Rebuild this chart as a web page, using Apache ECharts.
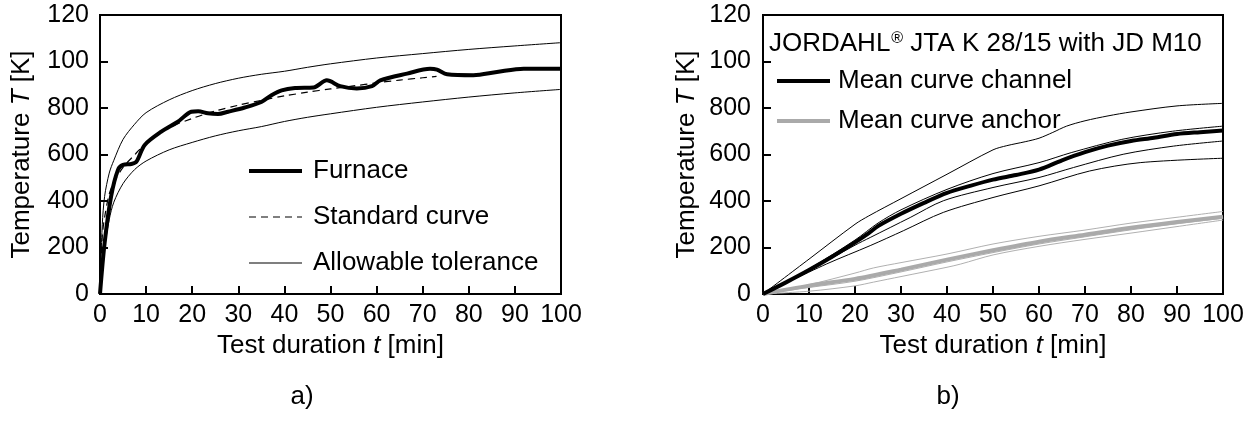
<!DOCTYPE html>
<html>
<head>
<meta charset="utf-8">
<script src="https://cdn.jsdelivr.net/npm/echarts@6/dist/echarts.min.js"></script>
<style>html,body{margin:0;padding:0;background:#fff}#c{width:1255px;height:421px}</style>
</head>
<body>
<div id="c"></div>
<script>
// ---------- Data ----------
const xTickLabels = ['0','10','20','30','40','50','60','70','80','90','100'];
const yTickLabels = ['0','200','400','600','800','100','120'];

// Chart a)
const furnaceT = [0,1,2.4,3.9,5,6.8,7.9,9.7,13.3,16.9,19.8,21.3,23.4,25.6,27.8,31.4,35,37.2,39.4,42.3,46.3,49.2,52.1,55.7,59,60.8,66.6,71.6,73.1,75.3,81,86.1,91.9,100];
const furnaceV = [0,219,419,534,555,559,569,641,698,741,784,786,777,774,784,802,826,855,876,886,888,919,894,884,894,919,948,969,965,945,941,955,969,969];
const standardT = [0,0.5,1,2,3,5,7.5,10,15,20,25,30,35,40,45,50,55,60,65,70,73];
const standardV = [20,250,330,430,480,545,598,650,715,755,787,812,833,852,868,882,895,908,920,930,936];
const tolT = [0,0.5,1,2,3,5,7.5,10,15,20,25,30,35,40,45,50,60,70,80,90,100];
const tolUpperV = [20,300,420,520,575,665,730,780,835,875,905,928,945,958,975,990,1015,1034,1052,1067,1081];
const tolLowerV = [0,100,200,320,395,475,535,572,620,652,680,702,720,742,760,775,803,826,847,865,880];

// Chart b)
const ch1T = [0,10,20,23,30,40,50,53,57,60,63,66,70,75,80,90,100];
const ch1V = [0,150,300,336,410,515,620,638,655,670,695,722,745,766,783,809,820];
const ch2T = [0,10,20,25,30,40,50,60,67,78,89,100];
const ch2V = [0,108,232,305,362,450,518,565,608,665,700,722];
const ch3T = [0,10,20,23.3,32,39.2,50,60,67.5,78.3,89.2,100];
const ch3V = [0,100,210,243,329,401,458,501,544,601,636,658];
const ch4T = [0,13.8,23.3,30.5,39.2,50,60,71,82,100];
const ch4V = [0,129,208,272,351,415,465,529,565,584];
const chMeanT = [0,5,10,15,20,23,25,30,35,40,45,50,55,60,65,70,75,80,85,90,95,100];
const chMeanV = [0,50,103,160,222,262,292,345,392,435,465,492,512,535,575,610,638,658,672,688,696,703];

const an1T = [0,10,20,24,30,40,50,60,70,80,90,100];
const an1V = [0,40,90,112,135,172,215,248,275,305,330,355];
const an2T = [0,10,20,24,30,40,43,50,60,70,80,90,100];
const an2V = [0,12,35,51,75,115,129,168,205,235,262,290,318];
const an3T = [0,10,20,30,40,50,60,70,80,90,100];
const an3V = [0,28,55,95,138,178,215,246,276,302,326];
const anMeanT = [0,10,20,30,40,50,60,70,80,90,100];
const anMeanV = [0,36,65,105,148,188,225,255,285,310,332];

const panelLabels = ['a)','b)'];
const headerB = 'JORDAHL';
const headerBRest = ' JTA K 28/15 with JD M10';

// ---------- Helpers ----------
function pairs(ts, vs){ return ts.map((t,i)=>[t, vs[i]]); }
const FONT = 'Liberation Sans, Arial, Helvetica, sans-serif';
const FS = 26, TFS = 25;

function xAxisFor(gi){
  return {
    type:'value', gridIndex:gi, min:0, max:100, interval:10,
    name:'{n|Test duration }{i|t}{n| [min]}', nameLocation:'middle', nameGap:39,
    nameTextStyle:{ rich:{ n:{fontFamily:FONT,fontSize:FS,color:'#000'}, i:{fontFamily:FONT,fontSize:FS,fontStyle:'italic',color:'#000'} } },
    axisLine:{ show:true, lineStyle:{color:'#000', width:2} },
    axisTick:{ show:true, inside:true, length:8, lineStyle:{color:'#000', width:2} },
    axisLabel:{ margin:9, fontFamily:FONT, fontSize:TFS, color:'#000',
      formatter:(v)=>xTickLabels[Math.round(v/10)] },
    splitLine:{show:false}
  };
}
function yAxisFor(gi, gap, lm){
  return {
    type:'value', gridIndex:gi, min:0, max:1200, interval:200,
    name:'{n|Temperature }{i|T}{n| [K]}', nameLocation:'middle', nameGap:gap,
    nameTextStyle:{ rich:{ n:{fontFamily:FONT,fontSize:FS,color:'#000'}, i:{fontFamily:FONT,fontSize:FS,fontStyle:'italic',color:'#000'} } },
    axisLine:{ show:true, lineStyle:{color:'#000', width:2} },
    axisTick:{ show:true, inside:true, length:8, lineStyle:{color:'#000', width:2} },
    axisLabel:{ margin:lm, fontFamily:FONT, fontSize:TFS, color:'#000',
      formatter:(v)=>yTickLabels[Math.round(v/200)] },
    splitLine:{show:false}
  };
}
function line(name, gi, data, color, width, type){
  return {
    type:'line', name:name, xAxisIndex:gi, yAxisIndex:gi, data:data,
    symbol:'none', smooth:0.3, silent:true, animation:false,
    lineStyle:{ color:color, width:width, type:type||'solid' },
    itemStyle:{ color:color }
  };
}

const chart = echarts.init(document.getElementById('c'), null, {renderer:'canvas'});
const option = {
  animation:false,
  backgroundColor:'#fff',
  grid:[
    { left:100, top:15, width:461, height:279, show:true, borderColor:'#000', borderWidth:2, backgroundColor:'transparent' },
    { left:763, top:15, width:460, height:279, show:true, borderColor:'#000', borderWidth:2, backgroundColor:'transparent' }
  ],
  xAxis:[ xAxisFor(0), xAxisFor(1) ],
  yAxis:[ yAxisFor(0, 65, 11), yAxisFor(1, 63, 12) ],
  title:[
    { text:'{t|'+headerB+'}{s|®}{t|'+headerBRest+'}', left:769, top:31, padding:0,
      textStyle:{ fontWeight:'normal', rich:{ t:{fontFamily:FONT,fontSize:FS,fontWeight:'normal',color:'#000'}, s:{fontFamily:FONT,fontSize:16,fontWeight:'normal',color:'#000',verticalAlign:'top',padding:[0,0,10,1]} } } },
    { text:panelLabels[0], left:302, top:384, padding:0, textAlign:'center', textStyle:{fontFamily:FONT,fontSize:FS,fontWeight:'normal',color:'#000'} },
    { text:panelLabels[1], left:948, top:384, padding:0, textAlign:'center', textStyle:{fontFamily:FONT,fontSize:FS,fontWeight:'normal',color:'#000'} }
  ],
  legend:[
    { orient:'vertical', left:247, top:158, padding:0, itemWidth:53, itemHeight:14, itemGap:20, selectedMode:false,
      itemStyle:{opacity:0},
      textStyle:{fontFamily:FONT,fontSize:FS,color:'#000',padding:[0,0,0,6]},
      data:[
        {name:'Furnace', lineStyle:{width:4,color:'#000'}},
        {name:'Standard curve', lineStyle:{width:1.2,color:'#000',type:[7,5]}},
        {name:'Allowable tolerance', lineStyle:{width:1.2,color:'#000'}}
      ] },
    { orient:'vertical', left:775, top:68, padding:0, itemWidth:53, itemHeight:14, itemGap:14, selectedMode:false,
      itemStyle:{opacity:0},
      textStyle:{fontFamily:FONT,fontSize:FS,color:'#000',padding:[0,0,0,3]},
      data:[
        {name:'Mean curve channel', lineStyle:{width:4,color:'#000'}},
        {name:'Mean curve anchor', lineStyle:{width:4,color:'#aaaaaa'}}
      ] }
  ],
  series:[
    line('Allowable tolerance', 0, pairs(tolT, tolUpperV), '#000', 1),
    line('Allowable tolerance', 0, pairs(tolT, tolLowerV), '#000', 1),
    line('Standard curve', 0, pairs(standardT, standardV), '#000', 1.2, [7,5]),
    line('Furnace', 0, pairs(furnaceT, furnaceV), '#000', 4),

    line('anchor test 1', 1, pairs(an1T, an1V), '#b0b0b0', 1),
    line('anchor test 2', 1, pairs(an2T, an2V), '#b0b0b0', 1),
    line('anchor test 3', 1, pairs(an3T, an3V), '#b0b0b0', 1),
    line('Mean curve anchor', 1, pairs(anMeanT, anMeanV), '#aaaaaa', 4),
    line('channel test 1', 1, pairs(ch1T, ch1V), '#000', 1),
    line('channel test 2', 1, pairs(ch2T, ch2V), '#000', 1),
    line('channel test 3', 1, pairs(ch3T, ch3V), '#000', 1),
    line('channel test 4', 1, pairs(ch4T, ch4V), '#000', 1),
    line('Mean curve channel', 1, pairs(chMeanT, chMeanV), '#000', 4)
  ]
};
chart.setOption(option);
</script>
</body>
</html>
